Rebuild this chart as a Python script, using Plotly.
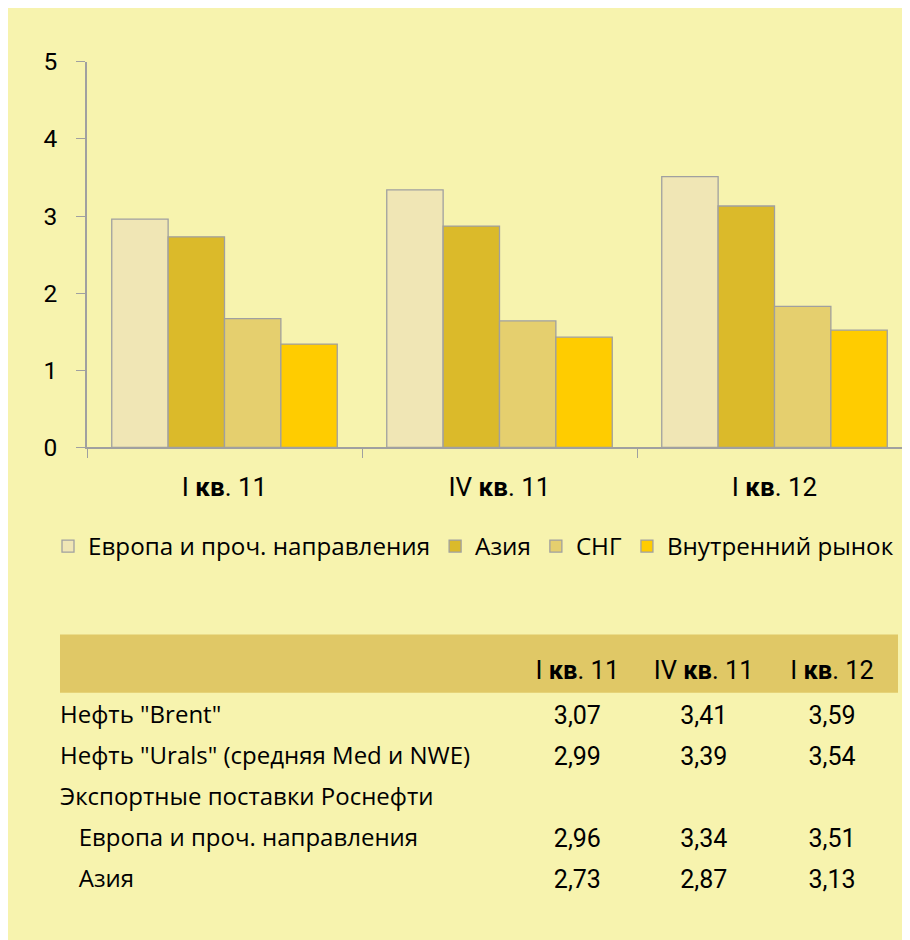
import plotly.graph_objects as go

# ---------------- data ----------------
quarters = ["I кв. 11", "IV кв. 11", "I кв. 12"]
series_names = ["Европа и проч. направления", "Азия", "СНГ", "Внутренний рынок"]
europe = [2.96, 3.34, 3.51]
asia = [2.73, 2.87, 3.13]
cis = [1.67, 1.64, 1.83]
domestic = [1.34, 1.43, 1.52]
series_values = [europe, asia, cis, domestic]
y_ticks = [0, 1, 2, 3, 4, 5]

table_row_labels = [
    'Нефть "Brent"',
    'Нефть "Urals" (средняя Med и NWE)',
    'Экспортные поставки Роснефти',
    '\u00a0\u00a0\u00a0Европа и проч. направления',
    '\u00a0\u00a0\u00a0Азия',
]
brent = [3.07, 3.41, 3.59]
urals = [2.99, 3.39, 3.54]
table_rows = [brent, urals, None, europe, asia]

# ---------------- styles ----------------
colors = ["#F0E6B5", "#DBBA2A", "#E5CF6E", "#FFCC00"]
edge = "#A0A0A0"
bg_yellow = "#F7F3AE"
band = "#E0C866"
W, H = 910, 940
OFF = 8  # page body margin


def X(px):
    return (px - OFF) / W


def Y(py):
    return (H - (py - OFF)) / H


def fmt(v):
    return f"{v:.2f}".replace(".", ",")


def bold_kv(s):
    return s.replace("кв", "<b>кв</b>")


fig = go.Figure()
for name, vals, col in zip(series_names, series_values, colors):
    fig.add_trace(go.Bar(
        x=quarters, y=vals, name=name,
        marker=dict(color=col, line=dict(color=edge, width=1.3)),
    ))

cols = [table_row_labels]
for qi in range(len(quarters)):
    cols.append(["" if r is None else fmt(r[qi]) for r in table_rows])

fig.add_trace(go.Table(
    domain=dict(x=[X(52), X(898)], y=[Y(938), Y(653)]),
    columnwidth=[463, 126, 127, 130],
    header=dict(
        values=[""] + [bold_kv(q) for q in quarters],
        fill=dict(color="rgba(0,0,0,0)"),
        line=dict(width=0, color="rgba(0,0,0,0)"),
        height=50,
        align=["left", "center", "center", "center"],
        font=dict(family="Roboto", size=25.5, color="#000000"),
    ),
    cells=dict(
        values=cols,
        fill=dict(color="rgba(0,0,0,0)"),
        line=dict(width=0, color="rgba(0,0,0,0)"),
        height=41,
        align=["left", "center", "center", "center"],
        font=dict(family=["Open Sans", "Roboto", "Roboto", "Roboto"], size=[24, 25, 25, 25],
                  color="#000000"),
    ),
))

fig.update_layout(
    width=W, height=H,
    margin=dict(l=0, r=0, t=0, b=0),
    paper_bgcolor=bg_yellow,
    plot_bgcolor="rgba(0,0,0,0)",
    barmode="group",
    bargap=0.18,
    bargroupgap=0,
    showlegend=True,
    legend=dict(
        orientation="h",
        x=X(48), xanchor="left",
        y=Y(549), yanchor="middle",
        bgcolor="rgba(0,0,0,0)",
        font=dict(family="Open Sans", size=24.2, color="#000000"),
        itemwidth=30,
        traceorder="normal",
    ),
    xaxis=dict(
        domain=[X(87), X(912)],
        type="category",
        showline=True, linecolor=edge, linewidth=1.5,
        ticks="outside", tickson="boundaries", ticklen=9, tickcolor=edge, tickwidth=1.3,
        tickvals=quarters, ticktext=[bold_kv(q) for q in quarters],
        tickfont=dict(family="Roboto", size=26, color="#000000"),
        ticklabelstandoff=16,
        showgrid=False, zeroline=False,
        fixedrange=True,
    ),
    yaxis=dict(
        domain=[Y(447), Y(49)],
        range=[0, 5],
        tickvals=y_ticks,
        showline=True, linecolor=edge, linewidth=1.5,
        ticks="outside", ticklen=9, tickcolor=edge, tickwidth=1.3,
        tickfont=dict(family="Roboto", size=24.5, color="#000000"),
        ticklabelstandoff=14,
        showgrid=False, zeroline=False,
        fixedrange=True,
    ),
    shapes=[
        dict(type="rect", xref="paper", yref="paper", layer="below",
             x0=X(60), x1=X(898), y0=Y(700), y1=Y(640),
             fillcolor=band, line=dict(width=0)),
    ],
)

fig.write_html("out.html")
